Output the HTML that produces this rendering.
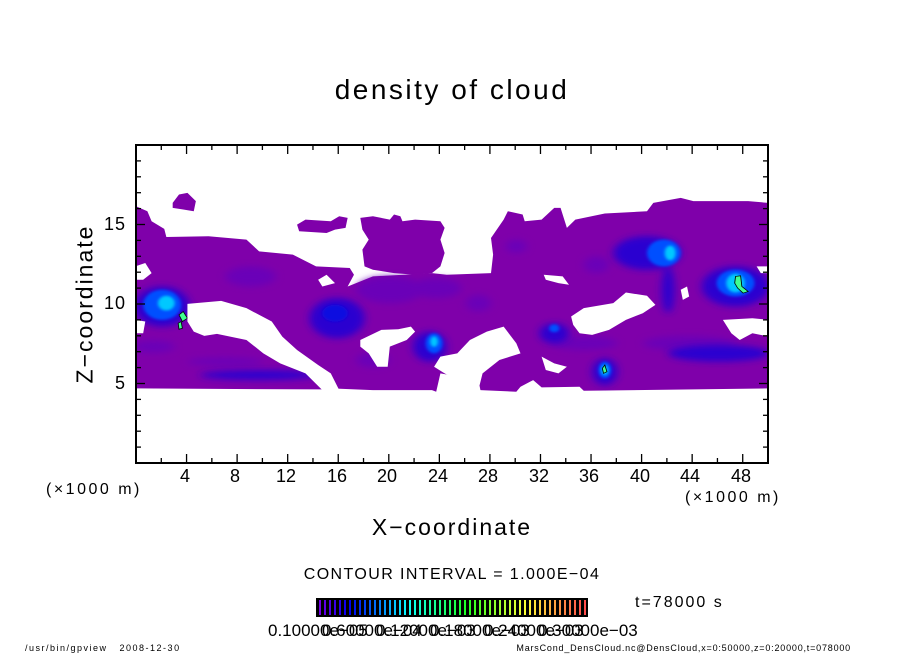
<!DOCTYPE html>
<html><head><meta charset="utf-8"><style>
html,body{margin:0;padding:0;background:#fff;}
body{width:904px;height:654px;position:relative;overflow:hidden;font-family:"Liberation Sans",sans-serif;}
.t{position:absolute;white-space:nowrap;color:#000;}
.k{font-size:18px;top:466px}
</style></head><body>
<svg width="904" height="654" style="position:absolute;left:0;top:0" xmlns="http://www.w3.org/2000/svg">
<defs>
<filter id="b" x="-50%" y="-50%" width="200%" height="200%"><feGaussianBlur stdDeviation="10"/></filter>
<filter id="b2" x="-50%" y="-50%" width="200%" height="200%"><feGaussianBlur stdDeviation="4"/></filter>
<clipPath id="cp"><rect x="38" y="17" width="1499" height="951"/></clipPath>
</defs>
<svg x="136" y="145" width="632" height="318" viewBox="38 17 1499 951" preserveAspectRatio="none">
<g clip-path="url(#cp)">
<g fill="#7f00aa">
<polygon points="38,200 65,215 75,245 105,268 110,292 210,290 300,300 330,335 410,345 465,380 545,385 555,405 540,440 600,410 740,400 775,405 880,400 885,345 880,295 910,240 920,215 955,225 960,245 1000,240 1030,205 1045,205 1060,265 1080,240 1150,222 1250,215 1265,190 1330,175 1360,185 1490,185 1537,190 1537,745 1100,752 1090,740 1000,742 980,720 950,740 940,755 855,750 850,720 760,700 750,755 740,750 600,750 500,745 480,748 38,745"/>
<polygon points="420,255 440,240 500,245 520,230 540,235 535,265 510,270 490,280 425,275"/>
<polygon points="570,235 600,230 640,240 650,225 665,230 670,245 700,240 760,245 770,265 760,300 770,340 760,380 740,400 700,405 650,400 600,390 580,380 575,330 590,300 575,270"/>
<polygon points="125,190 140,165 160,160 180,185 175,215 150,210 125,205"/>
</g>
<g fill="#6a00b8" filter="url(#b)">
<ellipse cx="310" cy="410" rx="60" ry="30"/><ellipse cx="640" cy="450" rx="80" ry="40"/>
<ellipse cx="750" cy="445" rx="60" ry="30"/><ellipse cx="850" cy="490" rx="30" ry="25"/>
<ellipse cx="1130" cy="375" rx="30" ry="25"/><ellipse cx="940" cy="320" rx="25" ry="20"/>
<ellipse cx="250" cy="665" rx="90" ry="12"/><ellipse cx="600" cy="660" rx="40" ry="22"/>
<ellipse cx="1350" cy="610" rx="110" ry="22"/><ellipse cx="1100" cy="610" rx="80" ry="20"/>
<ellipse cx="80" cy="620" rx="50" ry="18"/>
</g>
<g fill="#2a00d0" filter="url(#b)">
<ellipse cx="515" cy="535" rx="65" ry="60"/>
<ellipse cx="330" cy="705" rx="140" ry="14"/>
<ellipse cx="1420" cy="640" rx="120" ry="25"/>
<ellipse cx="1250" cy="340" rx="80" ry="50"/>
<ellipse cx="1300" cy="450" rx="15" ry="70"/>
<ellipse cx="1030" cy="580" rx="35" ry="30"/>
<ellipse cx="1460" cy="440" rx="80" ry="60"/>
<ellipse cx="100" cy="500" rx="65" ry="60"/>
<ellipse cx="735" cy="620" rx="40" ry="45"/>
<ellipse cx="1150" cy="695" rx="30" ry="40"/>
</g>
<g fill="#0050ff" filter="url(#b2)">
<ellipse cx="100" cy="495" rx="45" ry="45"/><ellipse cx="745" cy="610" rx="20" ry="30"/>
<ellipse cx="1290" cy="340" rx="40" ry="40"/><ellipse cx="1460" cy="430" rx="45" ry="40"/>
<ellipse cx="1150" cy="690" rx="15" ry="25"/><ellipse cx="1030" cy="565" rx="12" ry="12"/>
<ellipse cx="510" cy="520" rx="30" ry="25" fill="#1010e0"/>
</g>
<g fill="#00c8ff" filter="url(#b2)">
<ellipse cx="110" cy="490" rx="20" ry="22"/><ellipse cx="745" cy="605" rx="9" ry="16"/>
<ellipse cx="1305" cy="340" rx="13" ry="22"/><ellipse cx="1460" cy="430" rx="22" ry="28"/>
<ellipse cx="1150" cy="690" rx="8" ry="15"/>
</g>
<g fill="#40ff90" stroke="#000" stroke-width="2">
<polygon points="140,525 150,515 160,535 148,545"/><polygon points="138,550 145,545 148,565 140,568"/>
<polygon points="1460,410 1472,408 1475,440 1490,455 1478,460 1465,445 1458,430"/>
<polygon points="1144,685 1150,675 1155,695 1147,700"/>
</g>
<g fill="#fff">
<polygon points="160,492 240,483 300,505 360,545 385,590 420,630 470,675 500,700 520,750 480,750 440,700 380,670 340,640 300,600 230,582 200,588 175,575 160,545"/>
<polygon points="570,600 620,570 660,568 690,560 700,575 680,600 640,620 635,680 610,680 590,640 570,620"/>
<polygon points="760,650 800,640 830,600 870,575 910,560 940,610 950,640 900,660 860,700 850,750 830,750 800,720 770,700 745,680"/>
<polygon points="1070,530 1100,505 1170,490 1200,458 1250,468 1270,495 1240,520 1200,540 1160,570 1120,585 1090,580 1075,555"/>
<polygon points="1430,540 1500,535 1540,540 1540,590 1500,580 1470,600 1450,580"/>
<polygon points="1005,405 1050,410 1065,435 1040,430 1010,420"/>
<polygon points="470,420 490,405 510,430 480,440"/>
<polygon points="1510,380 1540,380 1540,400 1520,400"/>
<polygon points="1000,650 1030,670 1060,680 1040,700 1010,690"/>
<polygon points="36,380 60,370 75,400 55,420 36,420"/>
<polygon points="36,540 60,545 55,580 36,580"/>
<polygon points="1330,450 1345,440 1350,470 1335,480"/>
</g>
</g>
</svg>
<g id="ticks" stroke="#000" stroke-width="1.3"></g>
<rect x="136" y="145" width="632" height="318" fill="none" stroke="#000" stroke-width="2"/>
<rect x="316" y="598" width="272" height="19" fill="#000"/>
<g id="cb" stroke-width="2"></g>
</svg>
<script>
var g=document.getElementById('ticks'),s='';
for(var k=0;k<=50;k+=2){var x=136+k*12.64,L=(k%4==0)?9:5;
s+='<line x1="'+x+'" y1="463" x2="'+x+'" y2="'+(463-L)+'"/><line x1="'+x+'" y1="145" x2="'+x+'" y2="'+(145+L)+'"/>';}
for(var z=1;z<20;z++){var y=463-z*15.9,L=(z%5==0)?9:5;
s+='<line x1="136" y1="'+y+'" x2="'+(136+L)+'" y2="'+y+'"/><line x1="768" y1="'+y+'" x2="'+(768-L)+'" y2="'+y+'"/>';}
g.innerHTML=s;
var c=document.getElementById('cb'),t='';
for(var i=0;i<54;i++){var x=320+i*5,f=i/53,h=270-f*270;
t+='<line x1="'+x+'" y1="600" x2="'+x+'" y2="615" stroke="hsl('+h+',100%,'+(45+f*20)+'%)"/>';}
c.innerHTML=t;
</script>
<div class="t" style="left:0;width:904px;text-align:center;top:74px;font-size:28px;letter-spacing:2.5px">density of cloud</div>
<div class="t k" style="left:180px">4</div>
<div class="t k" style="left:230px">8</div>
<div class="t k" style="left:276px">12</div>
<div class="t k" style="left:327px">16</div>
<div class="t k" style="left:377px">20</div>
<div class="t k" style="left:428px">24</div>
<div class="t k" style="left:478px">28</div>
<div class="t k" style="left:529px">32</div>
<div class="t k" style="left:579px">36</div>
<div class="t k" style="left:630px">40</div>
<div class="t k" style="left:680px">44</div>
<div class="t k" style="left:731px">48</div>
<div class="t" style="left:104px;top:214px;font-size:18px;letter-spacing:1px">15</div>
<div class="t" style="left:104px;top:293px;font-size:18px;letter-spacing:1px">10</div>
<div class="t" style="left:115px;top:373px;font-size:18px">5</div>
<div class="t" style="left:46px;top:481px;font-size:16px;letter-spacing:2.5px">(×1000 m)</div>
<div class="t" style="left:685px;top:489px;font-size:16px;letter-spacing:2.5px">(×1000 m)</div>
<div class="t" style="left:0;width:904px;text-align:center;top:514px;font-size:23px;letter-spacing:2px">X−coordinate</div>
<div class="t" style="left:85px;top:304px;font-size:23px;letter-spacing:2px;transform:translate(-50%,-50%) rotate(-90deg)">Z−coordinate</div>
<div class="t" style="left:0;width:904px;text-align:center;top:566px;font-size:16px;letter-spacing:1.4px">CONTOUR INTERVAL = 1.000E−04</div>
<div class="t" style="left:635px;top:594px;font-size:16px;letter-spacing:2px">t=78000 s</div>
<div class="t" style="left:268px;top:621px;font-size:17px">0.10000e−05</div>
<div class="t" style="left:322px;top:621px;font-size:17px">0.60000e−04</div>
<div class="t" style="left:376px;top:621px;font-size:17px">0.12000e−03</div>
<div class="t" style="left:430px;top:621px;font-size:17px">0.18000e−03</div>
<div class="t" style="left:484px;top:621px;font-size:17px">0.24000e−03</div>
<div class="t" style="left:538px;top:621px;font-size:17px">0.30000e−03</div>
<div class="t" style="left:25px;top:643px;font-size:9px;letter-spacing:1.5px">/usr/bin/gpview&nbsp;&nbsp;&nbsp;2008-12-30</div>
<div class="t" style="right:53px;top:643px;font-size:9px;letter-spacing:0.8px">MarsCond_DensCloud.nc@DensCloud,x=0:50000,z=0:20000,t=078000</div>
</body></html>
